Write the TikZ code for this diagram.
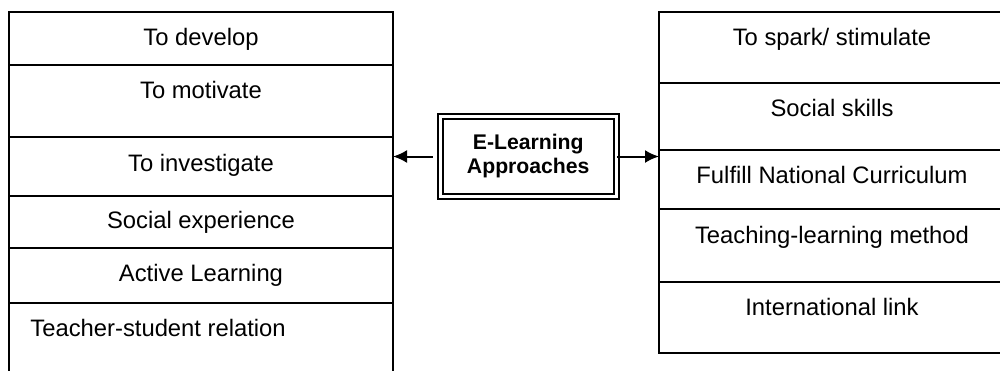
\documentclass[tikz,border=0pt]{standalone}
\usepackage{fontspec}
\setmainfont{Liberation Sans}
\usetikzlibrary{arrows.meta}
\begin{document}
\begin{tikzpicture}[x=0.5pt,y=-0.5pt,
  cell/.style={draw,line width=1pt,inner sep=0pt,outer sep=0pt,anchor=north west,minimum width=#1},
  lcell/.style={cell=192pt},
  rcell/.style={cell=180pt},
  txt/.style={inner sep=0pt,anchor=base,font=\fontsize{11.9}{14}\selectfont},
  approach/.style={draw,double,line width=1pt,double distance=1.5pt,minimum width=87.75pt,minimum height=40.25pt,inner sep=0pt,align=center,font=\fontsize{10.6}{12}\selectfont\bfseries},
  conn/.style={line width=1pt,-{Latex[length=7pt,width=6.5pt]}}]
\useasboundingbox (0,0) rectangle (1000,370);
\clip (0,0) rectangle (1000,370);
% left column
\node[lcell,minimum height=26.5pt] (c1) at (9,12) {};
\node[lcell,minimum height=36pt] (c2) at (9,65) {};
\node[lcell,minimum height=29.5pt] (c3) at (9,137) {};
\node[lcell,minimum height=26pt] (c4) at (9,196) {};
\node[lcell,minimum height=27.5pt] (c5) at (9,248) {};
\node[lcell,minimum height=43.5pt] (c6) at (9,303) {};
\node[txt] (t1) at (201,45) {To develop};
\node[txt] (t2) at (201,98) {To motivate};
\node[txt] (t3) at (201,171) {To investigate};
\node[txt] (t4) at (201,228) {Social experience};
\node[txt] (t5) at (201,281) {Active Learning};
\node[txt,anchor=base west] (t6) at (30,336) {Teacher-student relation};
% right column
\node[rcell,minimum height=35.5pt] (r1) at (659,12) {};
\node[rcell,minimum height=33.5pt] (r2) at (659,83) {};
\node[rcell,minimum height=29.5pt] (r3) at (659,150) {};
\node[rcell,minimum height=36.5pt] (r4) at (659,209) {};
\node[rcell,minimum height=35.5pt] (r5) at (659,282) {};
\node[txt] (s1) at (832,45) {To spark/ stimulate};
\node[txt] (s2) at (832,116) {Social skills};
\node[txt] (s3) at (832,183) {Fulfill National Curriculum};
\node[txt] (s4) at (832,243) {Teaching-learning method};
\node[txt] (s5) at (832,315) {International link};
% centre
\node[approach] (ctr) at (528.25,156.5) {E-Learning\\Approaches};
\draw[conn,shorten <=3.5pt] (ctr.west) -- (ctr.west -| c3.east);
\draw[conn] (ctr.east) -- (ctr.east -| r3.west);
\end{tikzpicture}
\end{document}
